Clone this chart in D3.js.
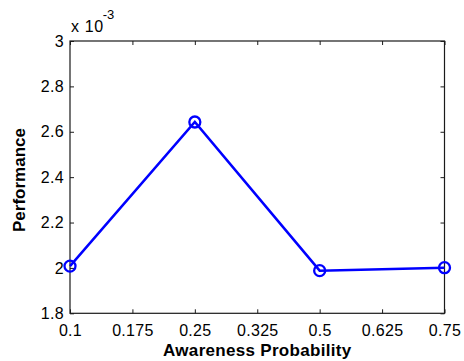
<!DOCTYPE html>
<html>
<head>
<meta charset="utf-8">
<script src="https://cdn.jsdelivr.net/npm/d3@7"></script>
<style>
  html, body { margin: 0; padding: 0; background: #fff; }
  svg { display: block; }
  text { font-family: "Liberation Sans", Arial, Helvetica, sans-serif; fill: #000; }
</style>
</head>
<body>
<svg id="chart" width="464" height="361"></svg>
<script>
// Awareness probability settings (tick labels along the x axis)
const xTickLabels = ["0.1", "0.175", "0.25", "0.325", "0.5", "0.625", "0.75"];
// Probabilities actually measured
const awareness = ["0.1", "0.25", "0.5", "0.75"];
// Measured performance
const performance = [0.002008, 0.002643, 0.001988, 0.002001];
// Y ticks (in units of 1e-3)
const yTicks = [1.8, 2.0, 2.2, 2.4, 2.6, 2.8, 3.0];

const svg = d3.select("#chart");
const margin = { left: 70, right: 19.5, top: 41, bottom: 47.7 };
const W = 464, H = 361;
const x0 = margin.left, x1 = W - margin.right;
const y0 = H - margin.bottom, y1 = margin.top;

const x = d3.scalePoint().domain(xTickLabels).range([x0, x1]);
const y = d3.scaleLinear().domain([1.8e-3, 3e-3]).range([y0, y1]);

const axisColor = "#1a1a1a";
const tickLen = 4;

// Box
svg.append("rect")
  .attr("x", x0).attr("y", y1)
  .attr("width", x1 - x0).attr("height", y0 - y1)
  .attr("fill", "none").attr("stroke", axisColor).attr("stroke-width", 1.2);

// Inward ticks on all four sides
const fmtY = d => d3.format(".1f")(d).replace(/\.0$/, "");
const xAxisB = d3.axisBottom(x).tickSize(-tickLen).tickPadding(11).tickFormat(d => d);
const xAxisT = d3.axisTop(x).tickSize(-tickLen).tickFormat("");
const yAxisL = d3.axisLeft(y).tickValues(yTicks.map(v => v * 1e-3)).tickSize(-tickLen).tickPadding(6)
  .tickFormat(d => fmtY(d * 1e3));
const yAxisR = d3.axisRight(y).tickValues(yTicks.map(v => v * 1e-3)).tickSize(-tickLen).tickFormat("");

function styleAxis(g) {
  g.select(".domain").remove();
  g.selectAll(".tick line").attr("stroke", axisColor).attr("stroke-width", 1);
  g.selectAll(".tick text")
    .style("font-family", '"Liberation Sans", Arial, sans-serif')
    .style("font-size", "16px")
    .style("letter-spacing", "0.3px")
    .attr("fill", "#000");
}

svg.append("g").attr("transform", `translate(0,${y0})`).call(xAxisB).call(styleAxis);
svg.append("g").attr("transform", `translate(0,${y1})`).call(xAxisT).call(styleAxis);
svg.append("g").attr("transform", `translate(${x0},0)`).call(yAxisL).call(styleAxis);
svg.append("g").attr("transform", `translate(${x1},0)`).call(yAxisR).call(styleAxis);

// Exponent label
const expo = svg.append("text")
  .attr("x", x0 + 1).attr("y", 32)
  .style("font-size", "16px").style("letter-spacing", "0.6px");
expo.append("tspan").text("x 10");
expo.append("tspan").attr("dy", -13).attr("dx", -1).style("font-size", "13px").style("letter-spacing", "0px").text("-3");

// Axis titles
svg.append("text")
  .attr("x", (x0 + x1) / 2).attr("y", 356)
  .attr("text-anchor", "middle")
  .style("font-size", "17px").style("font-weight", "bold")
  .style("letter-spacing", "0.3px")
  .text("Awareness Probability");

svg.append("text")
  .attr("transform", `translate(24.5,180) rotate(-90)`)
  .attr("text-anchor", "middle")
  .style("font-size", "17px").style("font-weight", "bold")
  .text("Performance");

// Series
const pts = awareness.map((a, i) => ({ a, v: performance[i] }));
const blue = "#0000ff";
svg.append("path")
  .datum(pts)
  .attr("fill", "none").attr("stroke", blue).attr("stroke-width", 2.5)
  .attr("stroke-linejoin", "miter")
  .attr("d", d3.line().x(d => x(d.a)).y(d => y(d.v)));

svg.selectAll("circle.m")
  .data(pts).join("circle")
  .attr("class", "m")
  .attr("cx", d => x(d.a)).attr("cy", d => y(d.v)).attr("r", 5.5)
  .attr("fill", "none").attr("stroke", blue).attr("stroke-width", 2.3);
</script>
</body>
</html>
